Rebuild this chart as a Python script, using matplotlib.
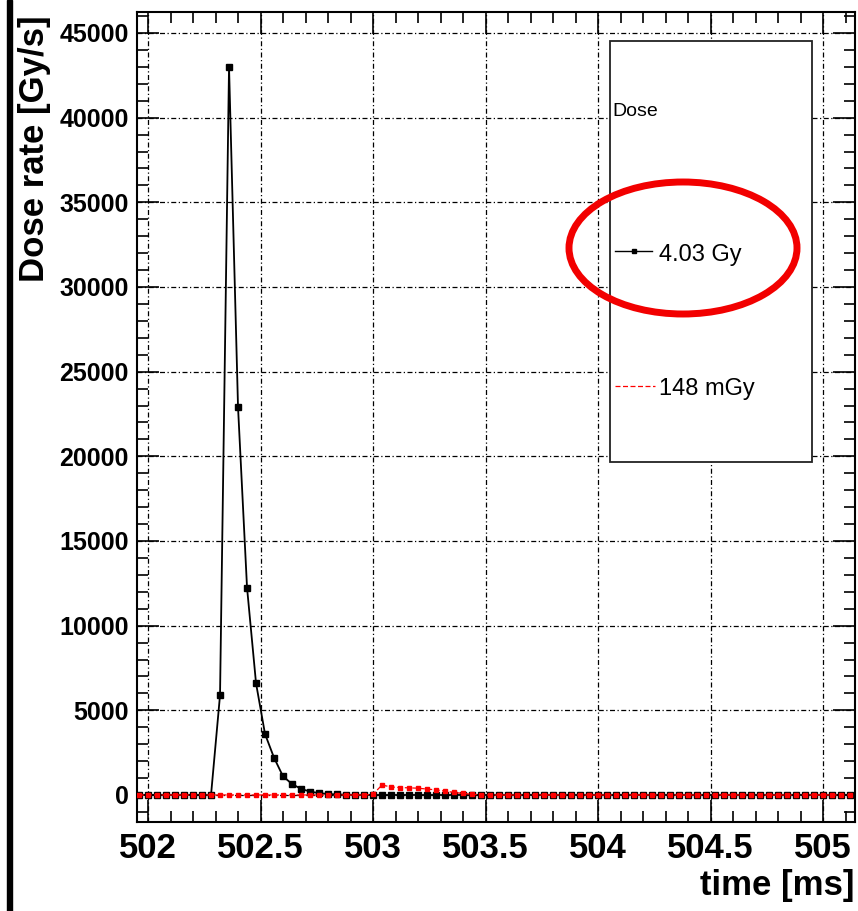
import numpy as np
import matplotlib
matplotlib.use("Agg")
import matplotlib.pyplot as plt
from matplotlib.patches import Ellipse, Rectangle
from matplotlib.lines import Line2D
from matplotlib.ticker import MultipleLocator, FuncFormatter

plt.rcParams['font.family'] = ['Liberation Sans', 'DejaVu Sans']

# Sampling grid of the dosimeter readout [ms]
t_start = 501.96
t_step = 0.04
n_samples = 80
time_ms = np.round(t_start + t_step * np.arange(n_samples), 2)

# Dose rate of the main pulse [Gy/s]
dose_main = [0, 0, 0, 0, 0, 0, 0, 0, 0,
             5900, 43000, 22900, 12250, 6600, 3600, 2200, 1100, 650,
             360, 200, 110, 60, 30, 15] + [0] * 56

# Dose rate of the secondary signal [Gy/s]
dose_second = [0] * 26 + [40, 590, 470, 440, 420, 400, 350, 300, 230,
                          150, 90, 40] + [0] * 42

legend_title = "Dose"
label_main = "4.03 Gy"
label_second = "148 mGy"

W, H = 858, 911
fig = plt.figure(figsize=(W / 100, H / 100), dpi=100)


def fx(px):
    return px / W


def fy(py):
    return 1 - py / H


ax = fig.add_axes([fx(137), fy(822), fx(855) - fx(137), fy(12) - fy(822)])

ax.plot(time_ms, dose_main, color='black', lw=1.3, marker='s', ms=4.2,
        mec='black', mfc='black', zorder=3)
ax.plot(time_ms, dose_second, color='red', lw=0.9, ls=(0, (4, 2)),
        marker='s', ms=2.2, mec='red', mfc='red', zorder=4)

ax.set_xlim(501.951, 505.142)
ax.set_ylim(-1596, 46240)

ax.xaxis.set_major_locator(MultipleLocator(0.5))
ax.xaxis.set_minor_locator(MultipleLocator(0.1))
ax.yaxis.set_major_locator(MultipleLocator(5000))
ax.yaxis.set_minor_locator(MultipleLocator(1000))
ax.xaxis.set_major_formatter(FuncFormatter(lambda v, p: f"{v:g}"))
ax.yaxis.set_major_formatter(FuncFormatter(lambda v, p: f"{int(round(v))}"))

ax.tick_params(which='both', direction='in', top=True, right=True,
               width=1.2, color='black')
ax.tick_params(which='major', length=16)
ax.tick_params(which='minor', length=8)
ax.tick_params(axis='x', which='major', labelsize=25, pad=7)
ax.tick_params(axis='y', which='major', labelsize=18, pad=6)
for lab in ax.get_xticklabels() + ax.get_yticklabels():
    lab.set_fontweight('bold')

ax.grid(which='major', color='black', ls=(0, (4, 2, 1, 2)), lw=0.9)
for sp in ax.spines.values():
    sp.set_linewidth(1.5)

# Overlay in pixel coordinates for the legend box, annotation and titles
ov = fig.add_axes([0, 0, 1, 1], zorder=10)
ov.set_xlim(0, W)
ov.set_ylim(H, 0)
ov.axis('off')
ov.patch.set_alpha(0)

ov.add_patch(Rectangle((7, 0), 5, H, color='black'))

ov.add_patch(Rectangle((610, 41), 202, 421, facecolor='white',
                       edgecolor='#222222', lw=1.3))
ov.text(612, 111, legend_title, fontsize=14, ha='left', va='center')
ov.add_line(Line2D([615, 652], [251, 251], color='black', lw=1.0))
ov.add_line(Line2D([634], [251], color='black', marker='s', ms=3.2, ls='none'))
ov.text(659, 255, label_main, fontsize=17, ha='left', va='center')
ov.add_line(Line2D([615, 655], [386, 386], color='red', lw=0.9, ls=(0, (4, 2))))
ov.text(659, 389, label_second, fontsize=17, ha='left', va='center')

ov.add_patch(Ellipse((683, 248), 228, 132, facecolor='none',
                     edgecolor='#f20000', lw=5))

fig.text(fx(35), fy(15), "Dose rate [Gy/s]", rotation=90, ha='center',
         va='top', fontsize=25, fontweight='bold')
fig.text(fx(855), fy(885), "time [ms]", ha='right', va='center',
         fontsize=25, fontweight='bold')

fig.savefig("out.png", dpi=100)
